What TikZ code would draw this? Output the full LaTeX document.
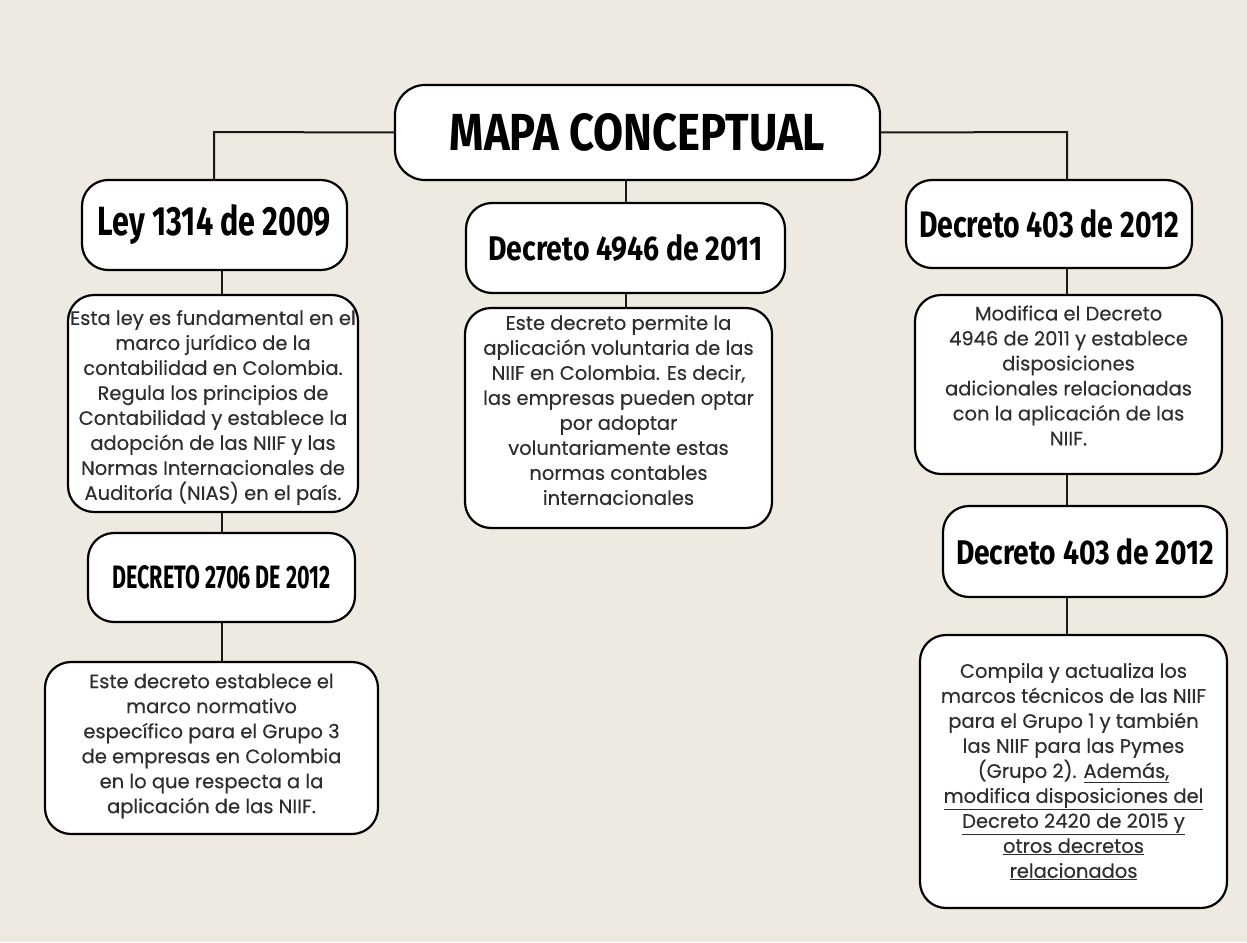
\documentclass[tikz,border=0pt]{standalone}
\usepackage{fontspec}
\usepackage{graphicx}
\setmainfont{Poppins}
\newfontfamily\bodyfont[FakeBold=0.35]{Poppins}
\newfontfamily\hfont{Fira Sans}
\definecolor{bgc}{HTML}{EEEAE2}
\definecolor{txt}{HTML}{2E2E2E}
\newcommand\hd[3]{\resizebox{#1pt}{#2pt}{\hfont\bfseries #3}}
\pgfdeclarelayer{bg}
\pgfdeclarelayer{lines}
\pgfsetlayers{bg,lines,main}
\tikzset{
  hbox/.style={draw=black, line width=2.2pt, fill=white, rounded corners=26pt, inner sep=0pt},
  dbox/.style={hbox},
  dtext/.style={text=txt, align=center, inner sep=0pt, font=\bodyfont\fontsize{19.5}{25}\selectfont},
  conn/.style={line width=2pt, draw=black!90}
}
\begin{document}
\begin{tikzpicture}[x=1pt,y=-1pt]
\useasboundingbox (0,0) rectangle (1247,942);
\begin{pgfonlayer}{bg}
\fill[bgc] (0,0) rectangle (1247,942);
\end{pgfonlayer}

% headings
\node[hbox, rounded corners=30pt, minimum width=485pt, minimum height=95pt] (title) at (637.5,132.5) {\hd{375}{37}{MAPA CONCEPTUAL}};
\node[hbox, minimum width=265pt, minimum height=90pt] (ley) at (214.5,225) {\hd{233}{31}{Ley 1314 de 2009}};
\node[hbox, minimum width=319pt, minimum height=90pt] (d4946) at (625.5,248) {\hd{274}{26}{Decreto 4946 de 2011}};
\node[hbox, minimum width=286pt, minimum height=88pt] (d403) at (1049,224) {\hd{260}{28}{Decreto 403 de 2012}};
\node[hbox, minimum width=267pt, minimum height=89pt] (d2706) at (221.5,577.5) {\hd{218}{23}{DECRETO 2706 DE 2012}};
\node[hbox, minimum width=284pt, minimum height=91pt] (d403b) at (1085,551.5) {\hd{258}{26}{Decreto 403 de 2012}};

% description boxes
\node[dbox, minimum width=290pt, minimum height=217pt] (b1) at (213,403.5) {};
\node[dbox, minimum width=307pt, minimum height=220pt] (b2) at (618.5,418) {};
\node[dbox, minimum width=307pt, minimum height=179pt] (b3) at (1068.5,384.5) {};
\node[dbox, minimum width=333pt, minimum height=172pt] (b4) at (211.5,748) {};
\node[dbox, minimum width=307pt, minimum height=273pt] (b5) at (1073.5,771.5) {};

\node[dtext] (t1) at ([yshift=-4pt]b1.center) {Esta ley es fundamental en el\\ marco jurídico de la\\ contabilidad en Colombia.\\ Regula los principios de\\ Contabilidad y establece la\\ adopción de las NIIF y las\\ Normas Internacionales de\\ Auditoría (NIAS) en el país.};
\node[dtext] (t2) at ([yshift=8pt]b2.center) {Este decreto permite la\\ aplicación voluntaria de las\\ NIIF en Colombia. Es decir,\\ las empresas pueden optar\\ por adoptar\\ voluntariamente estas\\ normas contables\\ internacionales};
\node[dtext] (t3) at ([yshift=9pt]b3.center) {Modifica el Decreto\\ 4946 de 2011 y establece\\ disposiciones\\ adicionales relacionadas\\ con la aplicación de las\\ NIIF.};
\node[dtext] (t4) at ([yshift=2pt]b4.center) {Este decreto establece el\\ marco normativo\\ específico para el Grupo 3\\ de empresas en Colombia\\ en lo que respecta a la\\ aplicación de las NIIF.};
\node[dtext] (t5) at (b5.center) {Compila y actualiza los\\ marcos técnicos de las NIIF\\ para el Grupo 1 y también\\ las NIIF para las Pymes\\ (Grupo 2). \underline{Además,}\\ \underline{modifica disposiciones del}\\ \underline{Decreto 2420 de 2015 y}\\ \underline{otros decretos}\\ \underline{relacionados}};

% connectors
\coordinate (cl) at (214,132);
\coordinate (cr) at (1067,132);
\coordinate (cc) at (626,150);
\coordinate (xl) at (222,400);
\begin{pgfonlayer}{lines}
\draw[conn] (title.center -| title.west) -- (cl) -- (cl |- ley.center);
\draw[conn] (title.center -| title.east) -- (cr) -- (cr |- d403.center);
\draw[conn] (cc) -- (cc |- d4946.center);
\draw[conn] (cc |- d4946.center) -- (cc |- b2.center);
\draw[conn] (xl |- ley.center) -- (xl |- b1.center) -- (xl |- d2706.center) -- (xl |- b4.center);
\draw[conn] (cr |- d403.center) -- (cr |- b3.center) -- (cr |- d403b.center) -- (cr |- b5.center);
\end{pgfonlayer}
\end{tikzpicture}
\end{document}
